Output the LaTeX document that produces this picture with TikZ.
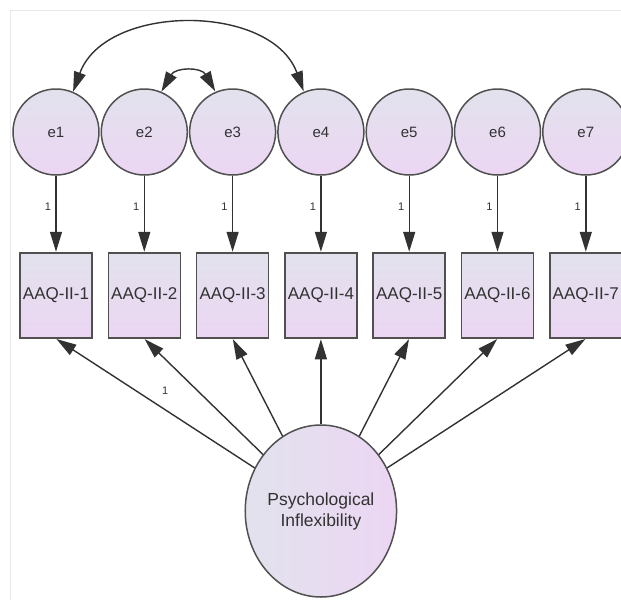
\documentclass[tikz,border=0pt]{standalone}
\usepackage{fontspec}
\setsansfont{Liberation Sans}
\usepackage{tikz}
\usetikzlibrary{arrows.meta}
\usetikzlibrary{positioning, shapes.geometric}
\definecolor{linegray}{RGB}{50,50,50}
\definecolor{bordergray}{RGB}{80,80,80}
\definecolor{fillblue}{RGB}{226,226,237}
\definecolor{fillpink}{RGB}{236,214,243}
\definecolor{framegray}{RGB}{232,232,232}
\tikzset{
    every node/.style={font=\sffamily},
    err node/.style={circle, draw=bordergray, line width=1.5pt, top color=fillblue, bottom color=fillpink, minimum size=86pt, inner sep=0pt, font=\sffamily\fontsize{15}{17}\selectfont},
    item node/.style={rectangle, draw=bordergray, line width=1.5pt, top color=fillblue, bottom color=fillpink, minimum width=72pt, minimum height=85pt, inner sep=0pt, font=\sffamily\fontsize{17}{19}\selectfont},
    latent node/.style={ellipse, draw=bordergray, line width=1.5pt, left color=fillblue, right color=fillpink, minimum width=147pt, minimum height=172pt, inner sep=0pt, align=center, font=\sffamily\fontsize{17.5}{21}\selectfont},
    load label/.style={font=\sffamily\fontsize{11}{12}\selectfont}
}

\begin{document}
\begin{tikzpicture}[
            > = {Triangle[length=20pt, width=12pt]}, % arrow head style
            shorten > = 0.5pt, % don't touch arrow head to node
            node distance = 88.3pt, % centre to centre
            on grid,
            color = linegray,
            line width = 1.4pt % line style
        ]

        \useasboundingbox (0,0) rectangle (621pt,-600pt);
        \clip (0,0) rectangle (621pt,-600pt);
        \draw[framegray, line width=1pt] (10pt,-600pt) -- (10pt,-10pt) -- (621pt,-10pt);

        % error terms
        \node[err node] (e1) at (56pt,-132pt) {e1};
        \node[err node] (e2) [right=of e1] {e2};
        \node[err node] (e3) [right=of e2] {e3};
        \node[err node] (e4) [right=of e3] {e4};
        \node[err node] (e5) [right=of e4] {e5};
        \node[err node] (e6) [right=of e5] {e6};
        \node[err node] (e7) [right=of e6] {e7};

        % items
        \node[item node] (a1) [below=163.5pt of e1] {AAQ-II-1};
        \node[item node] (a2) [below=163.5pt of e2] {AAQ-II-2};
        \node[item node] (a3) [below=163.5pt of e3] {AAQ-II-3};
        \node[item node] (a4) [below=163.5pt of e4] {AAQ-II-4};
        \node[item node] (a5) [below=163.5pt of e5] {AAQ-II-5};
        \node[item node] (a6) [below=163.5pt of e6] {AAQ-II-6};
        \node[item node] (a7) [below=163.5pt of e7] {AAQ-II-7};

        \node[latent node] (pi) [below=215.5pt of a4] {Psychological\\Inflexibility};

        \path[->] (e1) edge node[load label, left=1pt, pos=0.4] {1} (a1);
        \path[->] (e2) edge node[load label, left=1pt, pos=0.4] {1} (a2);
        \path[->] (e3) edge node[load label, left=1pt, pos=0.4] {1} (a3);
        \path[->] (e4) edge node[load label, left=1pt, pos=0.4] {1} (a4);
        \path[->] (e5) edge node[load label, left=1pt, pos=0.4] {1} (a5);
        \path[->] (e6) edge node[load label, left=1pt, pos=0.4] {1} (a6);
        \path[->] (e7) edge node[load label, left=1pt, pos=0.4] {1} (a7);

        \path[->] (pi) edge node[load label, pos=0.45, above=11pt] {1} (a1.south);
        \path[->] (pi) edge (a2.south);
        \path[->] (pi) edge (a3.south);
        \path[->] (pi) edge (a4.south);
        \path[->] (pi) edge (a5.south);
        \path[->] (pi) edge (a6.south);
        \path[->] (pi) edge (a7.south);

        % covariances
        \path[<->] (e1.67) edge[out=70, in=110, looseness=1.05] (e4.113);
        \path[<->] (e2.67) edge[out=60, in=120, looseness=1.35] (e3.113);

  \end{tikzpicture}
\end{document}
